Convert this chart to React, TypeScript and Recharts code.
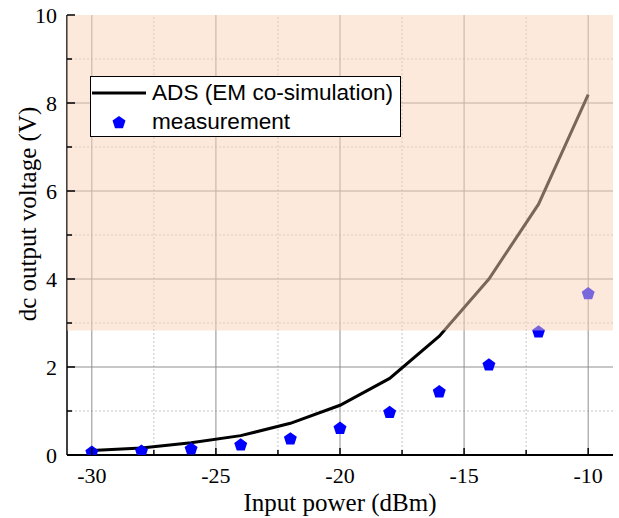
import React from 'react';
import {
  ComposedChart,
  Line,
  Scatter,
  XAxis,
  YAxis,
  ReferenceArea,
  ReferenceLine,
  Legend,
} from 'recharts';

// ---- data ----
const inputPowerDbm = [-30, -28, -26, -24, -22, -20, -18, -16, -14, -12, -10];
const adsVoltage = [0.1, 0.16, 0.28, 0.44, 0.72, 1.13, 1.74, 2.7, 4.0, 5.7, 8.19];
const measuredVoltage = [0.075, 0.1, 0.15, 0.24, 0.38, 0.62, 0.98, 1.45, 2.06, 2.81, 3.68];
const xMajorTicks = [-30, -25, -20, -15, -10];
const xMinorTicks = [-27.5, -22.5, -17.5, -12.5];
const yMajorTicks = [0, 2, 4, 6, 8, 10];
const yMinorTicks = [1, 3, 5, 7, 9];
const xDomain = [-31, -9];
const yDomain = [0, 10];
const shadedFrom = 2.83;
const shadedTo = 10;
const seriesNames = ['ADS (EM co-simulation)', 'measurement'];
const xTitle = 'Input power (dBm)';
const yTitle = 'dc output voltage (V)';

const data = inputPowerDbm.map((p, i) => ({ p, ads: adsVoltage[i], meas: measuredVoltage[i] }));
const xTicks = [...xMajorTicks, ...xMinorTicks].sort((a, b) => a - b);
const yTicks = [...yMajorTicks, ...yMinorTicks].sort((a, b) => a - b);

const SERIF = '"Liberation Serif", "Times New Roman", serif';
const SANS = '"Liberation Sans", Arial, sans-serif';

const BottomTick = (props: any) => {
  const { x, y, payload } = props;
  const major = xMajorTicks.includes(payload.value);
  return (
    <g>
      <line x1={x} x2={x} y1={y} y2={y - (major ? 7 : 5)} stroke="#000" strokeWidth={1.5} />
      {major && (
        <text x={x} y={y + 28} textAnchor="middle" fontFamily={SERIF} fontSize={22} fill="#000">
          {payload.value}
        </text>
      )}
    </g>
  );
};

const TopTick = (props: any) => {
  const { x, y, payload } = props;
  const major = xMajorTicks.includes(payload.value);
  return <line x1={x} x2={x} y1={y} y2={y + (major ? 7 : 5)} stroke="#000" strokeWidth={1.5} />;
};

const LeftTick = (props: any) => {
  const { x, y, payload } = props;
  const major = yMajorTicks.includes(payload.value);
  return (
    <g>
      <line x1={x} x2={x + (major ? 8 : 5)} y1={y} y2={y} stroke="#000" strokeWidth={1.5} />
      {major && (
        <text x={x - 10} y={y + 8} textAnchor="end" fontFamily={SERIF} fontSize={22} fill="#000">
          {payload.value}
        </text>
      )}
    </g>
  );
};

const RightTick = (props: any) => {
  const { x, y, payload } = props;
  const major = yMajorTicks.includes(payload.value);
  return <line x1={x} x2={x - (major ? 8 : 5)} y1={y} y2={y} stroke="#000" strokeWidth={1.5} />;
};

const XTitle = (props: any) => {
  const vb = props.viewBox || { x: 67, y: 455, width: 546, height: 63 };
  return (
    <text
      x={vb.x + vb.width / 2}
      y={vb.y + 56}
      textAnchor="middle"
      fontFamily={SERIF}
      fontSize={25}
      fill="#000"
    >
      {xTitle}
    </text>
  );
};

const YTitle = (props: any) => {
  const vb = props.viewBox || { x: 0, y: 15, width: 67, height: 440 };
  const cx = vb.x + 27;
  const cy = vb.y + vb.height / 2 - 21;
  return (
    <text
      x={cx}
      y={cy}
      transform={`rotate(-90 ${cx} ${cy})`}
      textAnchor="middle"
      dominantBaseline="central"
      fontFamily={SERIF}
      fontSize={25}
      fill="#000"
    >
      {yTitle}
    </text>
  );
};

const pentagonPoints = (cx: number, cy: number, r: number) => {
  const pts: string[] = [];
  for (let k = 0; k < 5; k++) {
    const a = -Math.PI / 2 + (k * 2 * Math.PI) / 5;
    pts.push(`${cx + r * Math.cos(a)},${cy + r * Math.sin(a) + r * 0.1}`);
  }
  return pts.join(' ');
};

const Pentagon = (props: any) => {
  const { cx, cy } = props;
  if (cx == null || cy == null) return null;
  return <polygon points={pentagonPoints(cx, cy, 6.8)} fill="#0000ff" stroke="none" />;
};

const LegendBox = () => (
  <div
    style={{
      width: 311,
      height: 61,
      boxSizing: 'border-box',
      border: '1.5px solid #000',
      background: '#fff',
      position: 'relative',
      fontFamily: SANS,
      fontSize: 22.6,
      color: '#000',
    }}
  >
    <svg width={60} height={60} style={{ position: 'absolute', left: 0, top: 0 }}>
      <line x1={1} x2={55} y1={16} y2={16} stroke="#000" strokeWidth={3} />
      <polygon points={pentagonPoints(28, 45, 6.8)} fill="#0000ff" />
    </svg>
    <div style={{ position: 'absolute', left: 61, top: 3, lineHeight: '26px', whiteSpace: 'nowrap' }}>
      {seriesNames[0]}
    </div>
    <div style={{ position: 'absolute', left: 61, top: 32, lineHeight: '26px', whiteSpace: 'nowrap' }}>
      {seriesNames[1]}
    </div>
  </div>
);

export default function App() {
  return (
    <div style={{ position: 'absolute', left: 0, top: 0, width: 619, height: 518, background: '#fff' }}>
      <ComposedChart
        width={619}
        height={518}
        data={data}
        margin={{ top: 15, right: 6, bottom: 0, left: 0 }}
      >
        {xMinorTicks.map((v) => (
          <ReferenceLine key={`xm${v}`} x={v} stroke="#c4c4c4" strokeDasharray="2 2" strokeWidth={1} zIndex={-50} />
        ))}
        {yMinorTicks.map((v) => (
          <ReferenceLine key={`ym${v}`} y={v} stroke="#c4c4c4" strokeDasharray="2 2" strokeWidth={1} zIndex={-50} />
        ))}
        {xMajorTicks.map((v) => (
          <ReferenceLine key={`xM${v}`} x={v} stroke="#8f8f8f" strokeWidth={1} zIndex={-40} />
        ))}
        {yMajorTicks
          .filter((v) => v > yDomain[0] && v < yDomain[1])
          .map((v) => (
            <ReferenceLine key={`yM${v}`} y={v} stroke="#8f8f8f" strokeWidth={1} zIndex={-40} />
          ))}
        <XAxis
          dataKey="p"
          type="number"
          domain={xDomain}
          ticks={xTicks}
          interval={0}
          allowDataOverflow
          height={63}
          tickSize={0}
          tickMargin={0}
          tickLine={false}
          tick={<BottomTick />}
          axisLine={{ stroke: '#000', strokeWidth: 2 }}
          label={<XTitle />}
        />
        <XAxis
          xAxisId="top"
          orientation="top"
          type="number"
          domain={xDomain}
          ticks={xTicks}
          interval={0}
          allowDataOverflow
          height={0}
          tickSize={0}
          tickMargin={0}
          tickLine={false}
          tick={<TopTick />}
          axisLine={{ stroke: '#000', strokeWidth: 2 }}
        />
        <YAxis
          type="number"
          domain={yDomain}
          ticks={yTicks}
          interval={0}
          allowDataOverflow
          width={67}
          tickSize={0}
          tickMargin={0}
          tickLine={false}
          tick={<LeftTick />}
          axisLine={{ stroke: '#000', strokeWidth: 1.5 }}
          label={<YTitle />}
        />
        <Line
          dataKey="ads"
          name={seriesNames[0]}
          type="linear"
          stroke="#000"
          strokeWidth={3}
          dot={false}
          activeDot={false}
          isAnimationActive={false}
        />
        <Scatter
          dataKey="meas"
          name={seriesNames[1]}
          fill="#0000ff"
          shape={<Pentagon />}
          isAnimationActive={false}
        />
        <ReferenceArea
          y1={shadedFrom}
          y2={shadedTo}
          fill="#f9d2b8"
          fillOpacity={0.49}
          stroke="none"
          ifOverflow="hidden"
          zIndex={650}
        />
        <YAxis
          yAxisId="right"
          orientation="right"
          type="number"
          domain={yDomain}
          ticks={yTicks}
          interval={0}
          allowDataOverflow
          width={0}
          tickSize={0}
          tickMargin={0}
          tickLine={false}
          tick={<RightTick />}
          axisLine={{ stroke: '#000', strokeWidth: 2 }}
          zIndex={700}
        />
        <Legend
          layout="horizontal"
          verticalAlign="middle"
          align="center"
          content={() => <LegendBox />}
          wrapperStyle={{ position: 'absolute', left: 90, top: 76, width: 311, height: 61 }}
        />
      </ComposedChart>
    </div>
  );
}
